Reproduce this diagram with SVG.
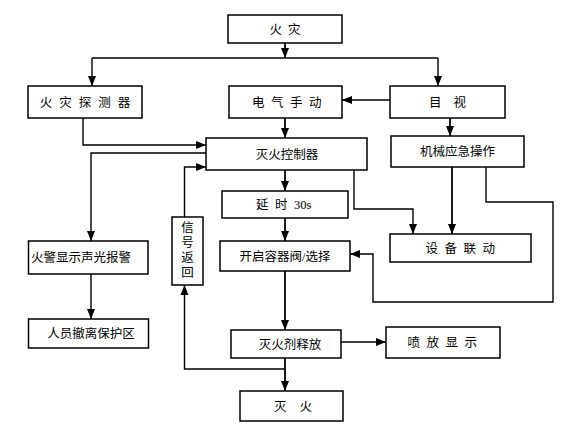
<svg xmlns="http://www.w3.org/2000/svg" width="570" height="433" viewBox="0 0 570 433">
<style>
.box{fill:#fff;stroke:#000;stroke-width:1.5}
.lbl{font-family:"Liberation Serif","Noto Sans CJK SC",serif;font-size:12.5px;fill:#000;text-anchor:middle}
.cn{fill:none;stroke:#000;stroke-width:1.4}
.thick{stroke-width:1.8}
</style>
<defs>
<marker id="ah" markerUnits="userSpaceOnUse" markerWidth="10" markerHeight="10" viewBox="0 0 10 10" refX="10" refY="5" orient="auto">
<path d="M0,1 L10,5 L0,9 Z" fill="#000"/>
</marker>
</defs>
<rect width="570" height="433" fill="#fff"/>
<g id="connectors">
<path class="cn thick" d="M285,43 V58" marker-end="url(#ah)"/>
<path class="cn" d="M92,58 H438"/>
<path class="cn" d="M92,58 V86" marker-end="url(#ah)"/>
<path class="cn" d="M438,58 V86" marker-end="url(#ah)"/>
<path class="cn" d="M390,100 H342" marker-end="url(#ah)"/>
<path class="cn thick" d="M285,118 V138" marker-end="url(#ah)"/>
<path class="cn" d="M83,118 V145 H206" marker-end="url(#ah)"/>
<path class="cn" d="M206,153 H91 V241" marker-end="url(#ah)"/>
<path class="cn" d="M91,274 V319" marker-end="url(#ah)"/>
<path class="cn thick" d="M450,118 V136" marker-end="url(#ah)"/>
<path class="cn thick" d="M285,170 V191" marker-end="url(#ah)"/>
<path class="cn" d="M354,170 V209 H413 V234" marker-end="url(#ah)"/>
<path class="cn thick" d="M452,167 V234" marker-end="url(#ah)"/>
<path class="cn" d="M486,167 V202 H553 V302 H373 V254 H350" marker-end="url(#ah)"/>
<path class="cn thick" d="M285,218 V241" marker-end="url(#ah)"/>
<path class="cn thick" d="M285,271 V330" marker-end="url(#ah)"/>
<path class="cn" d="M341,342 H386" marker-end="url(#ah)"/>
<path class="cn thick" d="M285,358 V391" marker-end="url(#ah)"/>
<path class="cn" d="M285,369 H184.5 V285" marker-end="url(#ah)"/>
<path class="cn" d="M184.5,217 V167 H206" marker-end="url(#ah)"/>
</g>
<g id="n_fire"><rect class="box" x="228" y="15" width="114" height="28"/><text class="lbl" x="288" y="34" letter-spacing="6">火灾</text></g>
<g id="n_detector"><rect class="box" x="28" y="86" width="114" height="32"/><text class="lbl" x="88.5" y="106.5" letter-spacing="7">火灾探测器</text></g>
<g id="n_manual"><rect class="box" x="229" y="86" width="113" height="32"/><text class="lbl" x="290" y="106.5" letter-spacing="6.5">电气手动</text></g>
<g id="n_visual"><rect class="box" x="390" y="86" width="115" height="32"/><text class="lbl" x="453.5" y="106.5" letter-spacing="12">目视</text></g>
<g id="n_controller"><rect class="box" x="206" y="138" width="161" height="32"/><text class="lbl" x="287" y="158.5">灭火控制器</text></g>
<g id="n_mech"><rect class="box" x="391" y="136" width="133" height="31"/><text class="lbl" x="457.5" y="156">机械应急操作</text></g>
<g id="n_delay"><rect class="box" x="222" y="191" width="126" height="27"/><text class="lbl" style="text-anchor:start" y="209"><tspan x="256">延</tspan><tspan x="275">时</tspan><tspan x="294">30s</tspan></text></g>
<g id="n_equip"><rect class="box" x="390" y="234" width="141" height="28"/><text class="lbl" x="463.5" y="252.5" letter-spacing="6.5">设备联动</text></g>
<g id="n_alarm"><rect class="box" x="28.5" y="241" width="119.5" height="33"/><text class="lbl" x="81" y="262">火警显示声光报警</text></g>
<g id="n_valve"><rect class="box" x="220" y="241" width="130" height="30"/><text class="lbl" x="285" y="260.5">开启容器阀/选择</text></g>
<g id="n_signal"><rect class="box" x="172" y="217" width="31" height="68"/><text class="lbl" x="187.5"><tspan x="187.5" y="232">信</tspan><tspan x="187.5" y="247">号</tspan><tspan x="187.5" y="262">返</tspan><tspan x="187.5" y="277">回</tspan></text></g>
<g id="n_evac"><rect class="box" x="28.5" y="319" width="120" height="29"/><text class="lbl" x="91" y="338">人员撤离保护区</text></g>
<g id="n_release"><rect class="box" x="231" y="330" width="110" height="28"/><text class="lbl" x="290" y="349">灭火剂释放</text></g>
<g id="n_display"><rect class="box" x="386" y="327" width="114" height="31"/><text class="lbl" x="445.5" y="347" letter-spacing="6.5">喷放显示</text></g>
<g id="n_out"><rect class="box" x="240" y="391" width="103" height="30"/><text class="lbl" x="299.5" y="410.5" letter-spacing="13">灭火</text></g>
</svg>
